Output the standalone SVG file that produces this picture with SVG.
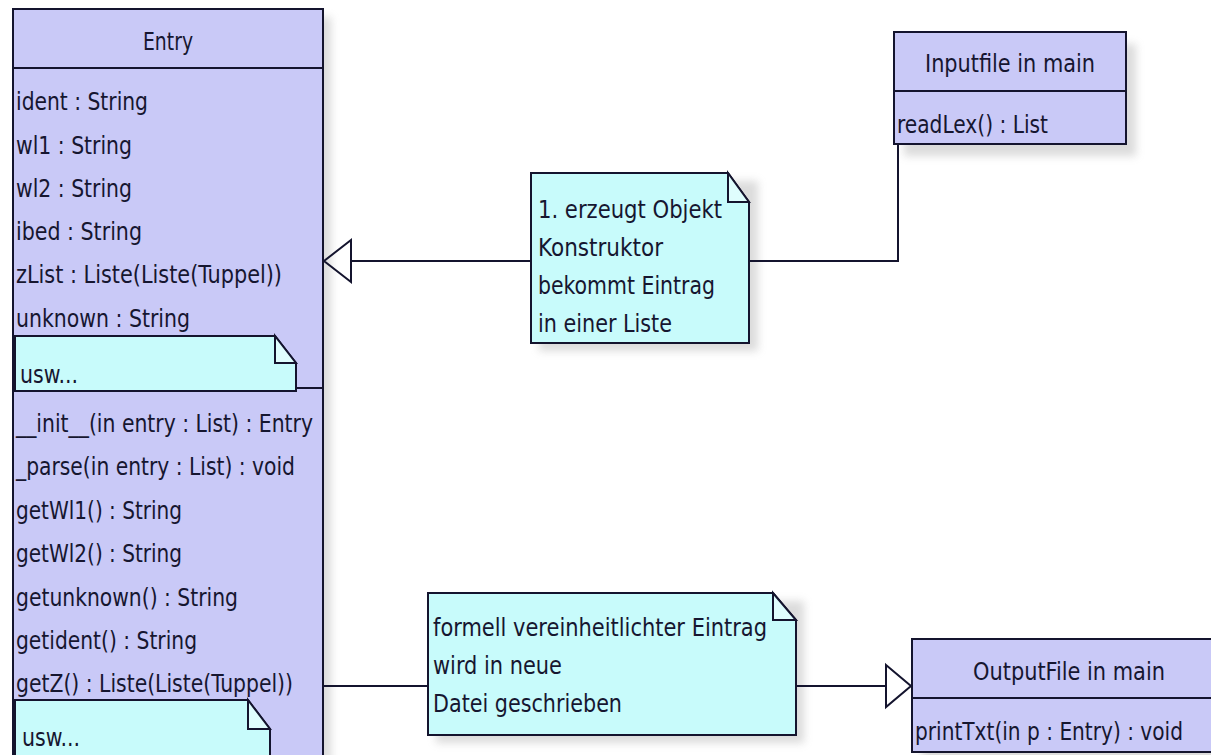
<svg xmlns="http://www.w3.org/2000/svg" width="1211" height="755" viewBox="0 0 1211 755">
<style>
.cls{fill:#c9c9f7;stroke:#14142e;stroke-width:2}
.note{fill:#c8fbfb;stroke:#14142e;stroke-width:2}
.fold{fill:#dffdfd;stroke:#14142e;stroke-width:2}
.sep{stroke:#14142e;stroke-width:2;fill:none}
.conn{stroke:#14142e;stroke-width:2;fill:none}
.shadow{fill:#9a9a9a;opacity:0.35;filter:url(#blur)}
text{font-family:"DejaVu Sans Condensed","DejaVu Sans",sans-serif;font-size:25px;fill:#161630}
</style>
<defs>
<filter id="blur" x="-10%" y="-10%" width="120%" height="120%"><feGaussianBlur stdDeviation="4"/></filter>
</defs>
<rect width="1211" height="755" fill="#ffffff"/>

<g id="Entry">
<rect class="shadow" x="21" y="17" width="310" height="760"/>
<rect class="cls" x="13" y="9" width="310" height="760"/>
<line class="sep" x1="13" y1="68" x2="323" y2="68"/>
<line class="sep" x1="13" y1="388" x2="323" y2="388"/>
<text x="143" y="50" textLength="50" lengthAdjust="spacingAndGlyphs">Entry</text>
<text x="16" y="110" textLength="132" lengthAdjust="spacingAndGlyphs">ident : String</text>
<text x="16" y="154" textLength="116" lengthAdjust="spacingAndGlyphs">wl1 : String</text>
<text x="16" y="197" textLength="116" lengthAdjust="spacingAndGlyphs">wl2 : String</text>
<text x="16" y="240" textLength="126" lengthAdjust="spacingAndGlyphs">ibed : String</text>
<text x="16" y="283" textLength="266" lengthAdjust="spacingAndGlyphs">zList : Liste(Liste(Tuppel))</text>
<text x="16" y="327" textLength="174" lengthAdjust="spacingAndGlyphs">unknown : String</text>
<text x="16" y="432" textLength="297" lengthAdjust="spacingAndGlyphs">__init__(in entry : List) : Entry</text>
<text x="16" y="475" textLength="279" lengthAdjust="spacingAndGlyphs">_parse(in entry : List) : void</text>
<text x="16" y="519" textLength="166" lengthAdjust="spacingAndGlyphs">getWl1() : String</text>
<text x="16" y="562" textLength="166" lengthAdjust="spacingAndGlyphs">getWl2() : String</text>
<text x="16" y="606" textLength="222" lengthAdjust="spacingAndGlyphs">getunknown() : String</text>
<text x="16" y="649" textLength="181" lengthAdjust="spacingAndGlyphs">getident() : String</text>
<text x="16" y="692" textLength="277" lengthAdjust="spacingAndGlyphs">getZ() : Liste(Liste(Tuppel))</text>
</g>

<g id="NoteAttrUsw">
<path class="note" d="M15,336 H275 L296,363 V391 H15 Z"/>
<path class="fold" d="M275,336 V363 H296 Z"/>
<text x="20" y="383" textLength="58" lengthAdjust="spacingAndGlyphs">usw...</text>
</g>

<g id="NoteOpUsw">
<path class="note" d="M15,700 H248 L270,729 V770 H15 Z"/>
<path class="fold" d="M248,700 V729 H270 Z"/>
<text x="22" y="746" textLength="58" lengthAdjust="spacingAndGlyphs">usw...</text>
</g>

<g id="Inputfile">
<rect class="shadow" x="904" y="44" width="232" height="112"/>
<rect class="cls" x="894" y="32" width="232" height="112"/>
<line class="sep" x1="894" y1="91" x2="1126" y2="91"/>
<text x="925" y="72" textLength="170" lengthAdjust="spacingAndGlyphs">Inputfile in main</text>
<text x="897" y="133" textLength="151" lengthAdjust="spacingAndGlyphs">readLex() : List</text>
</g>

<g id="OutputFile">
<rect class="shadow" x="922" y="650" width="300" height="112"/>
<rect class="cls" x="912" y="639" width="300" height="113"/>
<line class="sep" x1="912" y1="698" x2="1212" y2="698"/>
<text x="973" y="680" textLength="192" lengthAdjust="spacingAndGlyphs">OutputFile in main</text>
<text x="915" y="740" textLength="268" lengthAdjust="spacingAndGlyphs">printTxt(in p : Entry) : void</text>
</g>

<g id="Note1">
<rect class="shadow" x="539" y="181" width="219" height="170"/>
<path class="note" d="M531,173 H728 L749,202 V343 H531 Z"/>
<path class="fold" d="M728,173 V202 H749 Z"/>
<text x="538" y="218" textLength="184" lengthAdjust="spacingAndGlyphs">1. erzeugt Objekt</text>
<text x="538" y="256" textLength="125" lengthAdjust="spacingAndGlyphs">Konstruktor</text>
<text x="538" y="294" textLength="177" lengthAdjust="spacingAndGlyphs">bekommt Eintrag</text>
<text x="538" y="332" textLength="134" lengthAdjust="spacingAndGlyphs">in einer Liste</text>
</g>

<g id="Note2">
<rect class="shadow" x="436" y="601" width="368" height="142"/>
<path class="note" d="M428,593 H773 L796,620 V735 H428 Z"/>
<path class="fold" d="M773,593 V620 H796 Z"/>
<text x="433" y="636" textLength="334" lengthAdjust="spacingAndGlyphs">formell vereinheitlichter Eintrag</text>
<text x="433" y="674" textLength="129" lengthAdjust="spacingAndGlyphs">wird in neue</text>
<text x="433" y="712" textLength="189" lengthAdjust="spacingAndGlyphs">Datei geschrieben</text>
</g>

<g id="connectors">
<polyline class="conn" points="898,144 898,261 749,261"/>
<line class="conn" x1="531" y1="261" x2="351" y2="261"/>
<path class="conn" d="M351,240 L324,261 L351,282 Z" fill="#ffffff"/>
<line class="conn" x1="323" y1="686" x2="428" y2="686"/>
<line class="conn" x1="796" y1="686" x2="886" y2="686"/>
<path class="conn" d="M886,665 L911,686 L886,707 Z" fill="#ffffff"/>
</g>
</svg>
